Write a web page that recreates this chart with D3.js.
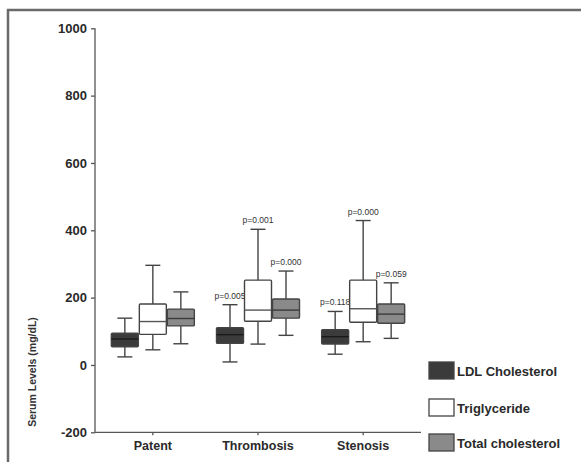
<!DOCTYPE html>
<html>
<head>
<meta charset="utf-8">
<script src="https://cdn.jsdelivr.net/npm/d3@7"></script>
<style>
body{margin:0;background:#fff;}
svg{display:block;font-family:Arial,"Liberation Sans",sans-serif;}
</style>
</head>
<body>
<svg id="chart" width="581" height="462"></svg>
<script>
const categories = ["Patent", "Thrombosis", "Stenosis"];
const seriesNames = ["LDL Cholesterol", "Triglyceride", "Total cholesterol"];
const seriesColors = ["#3b3b3b", "#ffffff", "#8a8a8a"];
const medianColors = ["#1a1a1a", "#555555", "#3a3a3a"];
// [whiskerLow, q1, median, q3, whiskerHigh] per category
const ldlStats = [[24, 54, 77, 94, 139], [9, 64, 90, 111, 179], [32, 62, 84, 105, 159]];
const trigStats = [[45, 91, 129, 181, 296], [62, 130, 163, 252, 403], [69, 127, 167, 252, 429]];
const totalStats = [[63, 116, 138, 166, 217], [88, 139, 163, 196, 279], [79, 124, 151, 181, 244]];
const pLabels = [["", "", ""], ["p=0.005", "p=0.001", "p=0.000"], ["p=0.118", "p=0.000", "p=0.059"]];
const yTicks = [-200, 0, 200, 400, 600, 800, 1000];
const yTitle = "Serum Levels (mg/dL)";

const allStats = [ldlStats, trigStats, totalStats];
const svg = d3.select("#chart");
const FONT = "Arial, Liberation Sans, sans-serif";

// frame
svg.append("path").attr("d", "M8,462 V10 H581").attr("fill", "none")
  .attr("stroke", "#6a6a6a").attr("stroke-width", 2.5);

const y = d3.scaleLinear().domain([-200, 1000]).range([432.3, 28.3]);
const x = d3.scaleBand().domain(categories).range([95, 421]).paddingInner(0).paddingOuter(0.05);
const xs = d3.scaleBand().domain(seriesNames).range([-42, 42]).padding(0);

// y axis
const yAxis = svg.append("g").attr("transform", "translate(95,0)")
  .call(d3.axisLeft(y).tickValues(yTicks).tickSize(4).tickPadding(4).tickFormat(d => String(d)));
yAxis.selectAll("path,line").attr("stroke", "#555").attr("stroke-width", 1.3);
yAxis.select(".domain").attr("d", `M0,${y(1000)}V${y(-200)}`);
yAxis.selectAll("text").attr("font-size", 13).attr("font-weight", "bold").attr("fill", "#2a2a2a").attr("font-family", FONT);

// x axis
const xAxis = svg.append("g").attr("transform", `translate(0,${y(-200)})`)
  .call(d3.axisBottom(x).tickSize(3).tickPadding(6));
xAxis.selectAll("path,line").attr("stroke", "#555").attr("stroke-width", 1.3);
xAxis.select(".domain").attr("d", `M95,0H421`);
xAxis.selectAll("text").attr("font-size", 12.5).attr("font-weight", "bold").attr("fill", "#2a2a2a").attr("font-family", FONT);

// y title
svg.append("text").attr("transform", "translate(36,372) rotate(-90)")
  .attr("text-anchor", "middle").attr("font-size", 10.5).attr("font-weight", "bold").attr("fill", "#333")
  .text(yTitle);

// boxes
seriesNames.forEach((s, si) => {
  const g = svg.append("g");
  categories.forEach((c, ci) => {
    const st = allStats[si][ci];
    const x0 = x(c) + x.bandwidth() / 2 + xs(s);
    const w = xs.bandwidth();
    const cx = x0 + w / 2;
    const stroke = "#444";
    g.append("line").attr("x1", cx).attr("x2", cx).attr("y1", y(st[0])).attr("y2", y(st[4]))
      .attr("stroke", stroke).attr("stroke-width", 1.4);
    [st[0], st[4]].forEach(v => {
      g.append("line").attr("x1", cx - 7.5).attr("x2", cx + 7.5).attr("y1", y(v)).attr("y2", y(v))
        .attr("stroke", stroke).attr("stroke-width", 1.4);
    });
    g.append("rect").attr("x", x0 + 0.5).attr("width", w - 1).attr("y", y(st[3])).attr("height", y(st[1]) - y(st[3]))
      .attr("fill", seriesColors[si]).attr("stroke", stroke).attr("stroke-width", 1.4).attr("rx", 1);
    g.append("line").attr("x1", x0 + 0.5).attr("x2", x0 + w - 0.5).attr("y1", y(st[2])).attr("y2", y(st[2]))
      .attr("stroke", medianColors[si]).attr("stroke-width", 1.4);
    const lab = pLabels[ci][si];
    if (lab) {
      g.append("text").attr("x", cx).attr("y", y(st[4]) - 6).attr("text-anchor", "middle")
        .attr("font-size", 8.5).attr("fill", "#333").text(lab);
    }
  });
});

// legend
const legendY = [362, 399, 434];
const lg = svg.append("g");
seriesNames.forEach((s, i) => {
  lg.append("rect").attr("x", 429).attr("y", legendY[i]).attr("width", 25).attr("height", 17)
    .attr("fill", seriesColors[i]).attr("stroke", "#444").attr("stroke-width", 1.3);
  lg.append("text").attr("x", 457).attr("y", legendY[i] + 13.5).attr("font-size", 13).attr("font-weight", "bold")
    .attr("fill", "#2a2a2a").text(s);
});
</script>
</body>
</html>
